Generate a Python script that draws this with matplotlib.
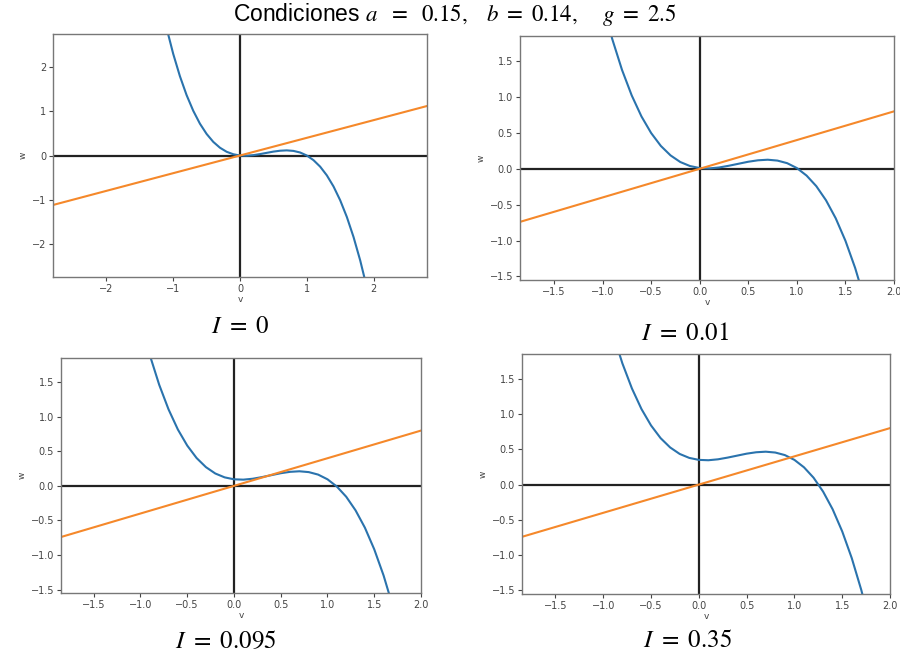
import matplotlib
matplotlib.use("Agg")
import matplotlib.pyplot as plt

plt.rcParams['mathtext.fontset'] = 'stix'
plt.rcParams['font.family'] = ['DejaVu Sans']

v_grid = [-1.2, -1.1, -1.0, -0.9, -0.8, -0.7, -0.6, -0.5, -0.4, -0.3, -0.2, -0.1,
          0.0, 0.1, 0.2, 0.3, 0.4, 0.5, 0.6, 0.7, 0.8, 0.9, 1.0, 1.1, 1.2, 1.3,
          1.4, 1.5, 1.6, 1.7, 1.8, 1.9, 2.0]

w_I0 = [3.564, 2.888, 2.300, 1.796, 1.368, 1.012, 0.720, 0.488, 0.308, 0.176, 0.084, 0.028,
        0.000, -0.005, 0.008, 0.032, 0.060, 0.088, 0.108, 0.116, 0.104, 0.068, 0.000, -0.105,
        -0.252, -0.449, -0.700, -1.013, -1.392, -1.845, -2.376, -2.993, -3.700]
w_I001 = [3.574, 2.898, 2.310, 1.806, 1.378, 1.022, 0.730, 0.498, 0.318, 0.186, 0.094, 0.038,
          0.010, 0.005, 0.018, 0.042, 0.070, 0.098, 0.118, 0.126, 0.114, 0.078, 0.010, -0.095,
          -0.242, -0.439, -0.690, -1.003, -1.382, -1.835, -2.366, -2.983, -3.690]
w_I0095 = [3.659, 2.983, 2.395, 1.891, 1.463, 1.107, 0.815, 0.583, 0.403, 0.271, 0.179, 0.123,
           0.095, 0.090, 0.103, 0.127, 0.155, 0.183, 0.203, 0.211, 0.199, 0.163, 0.095, -0.010,
           -0.157, -0.354, -0.605, -0.918, -1.297, -1.750, -2.281, -2.898, -3.605]
w_I035 = [3.914, 3.238, 2.650, 2.146, 1.718, 1.362, 1.070, 0.838, 0.658, 0.526, 0.434, 0.378,
          0.350, 0.345, 0.358, 0.382, 0.410, 0.438, 0.458, 0.466, 0.454, 0.418, 0.350, 0.245,
          0.098, -0.099, -0.350, -0.663, -1.042, -1.495, -2.026, -2.643, -3.350]

# recta w = v/g
line_v = [-3.0, 3.0]
line_w = [-1.2, 1.2]

labels = [r'$I\ =\ 0$', r'$I\ =\ 0.01$', r'$I\ =\ 0.095$', r'$I\ =\ 0.35$']
curves = [w_I0, w_I001, w_I0095, w_I035]

W, H = 900, 659
fig = plt.figure(figsize=(9, 6.59), dpi=100)

# posiciones en pixeles: (izq, der, arriba, abajo)
boxes = [(53, 427, 34, 277), (520, 894, 36, 280), (61, 421, 358, 593), (522, 890, 354, 594)]
lims = [((-2.8, 2.8), (-2.75, 2.75)), ((-1.85, 2.0), (-1.55, 1.85)),
        ((-1.85, 2.0), (-1.55, 1.85)), ((-1.85, 2.0), (-1.55, 1.85))]
label_pos = [(240, 326), (685, 333), (226, 641), (688, 640)]

for i in range(4):
    l, r, t, b = boxes[i]
    ax = fig.add_axes([l / W, 1 - b / H, (r - l) / W, (b - t) / H])
    ax.axhline(0, color='#222222', lw=1.6, zorder=1)
    ax.axvline(0, color='#222222', lw=1.6, zorder=1)
    ax.plot(v_grid, curves[i], color='#2a73ad', lw=1.5, zorder=2)
    ax.plot(line_v, line_w, color='#f5882a', lw=1.5, zorder=2)
    ax.set_xlim(lims[i][0])
    ax.set_ylim(lims[i][1])
    ax.set_xlabel('v', fontsize=6.5, color='#444444', labelpad=1)
    ax.set_ylabel('w', fontsize=6.5, color='#444444', labelpad=3)
    ax.tick_params(labelsize=7, colors='#444444', length=3, width=0.8, pad=2)
    for s in ax.spines.values():
        s.set_color('#777777')
        s.set_linewidth(1.0)
    if i > 0:
        ax.set_xticks([-1.5, -1.0, -0.5, 0.0, 0.5, 1.0, 1.5, 2.0])
        ax.set_yticks([-1.5, -1.0, -0.5, 0.0, 0.5, 1.0, 1.5])
    else:
        ax.set_xticks([-2, -1, 0, 1, 2])
        ax.set_yticks([-2, -1, 0, 1, 2])
    x, y = label_pos[i]
    fig.text(x / W, 1 - y / H, labels[i], fontsize=18, ha='center', va='center')

fig.text(455 / W, 1 - 14 / H,
         r'Condiciones $a\ \ =\ \ 0.15,\ \ \ b\ =\ 0.14,\ \ \ \ g\ =\ 2.5$',
         fontsize=16.5, ha='center', va='center', family=['Liberation Sans', 'DejaVu Sans'])

fig.savefig('out.png', dpi=100)
